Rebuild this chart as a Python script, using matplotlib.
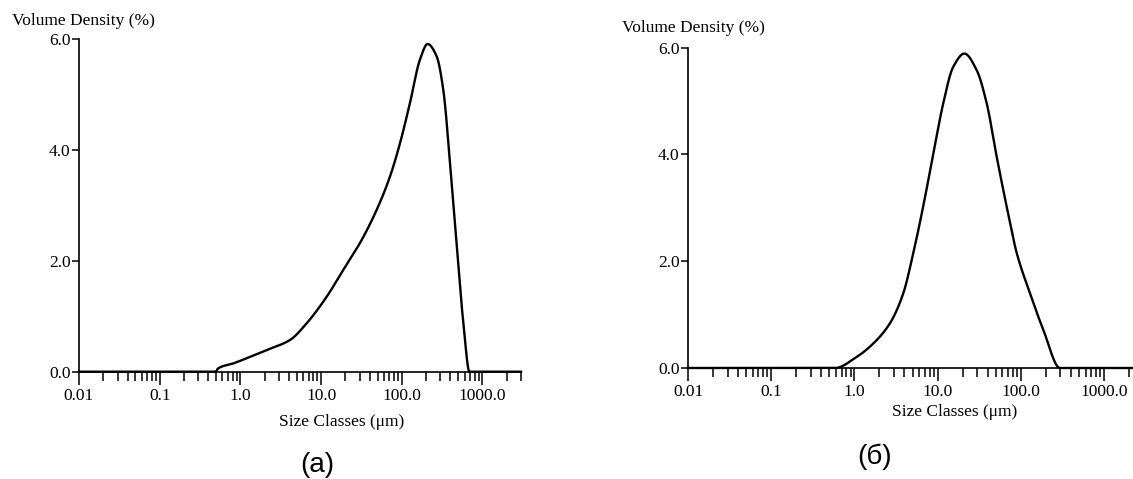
import numpy as np
import matplotlib
matplotlib.use("Agg")
import matplotlib.pyplot as plt
from matplotlib.ticker import FixedLocator, NullFormatter

# ---- DATA ----
size_a = [0.01, 0.50, 0.52, 0.82, 2.1, 4.1, 6.6, 11.7, 18.9, 30.3, 48.9, 71.4,
          95, 126, 168, 209, 270, 327, 396, 480, 580, 690, 3000]
dens_a = [0.0, 0.0, 0.05, 0.15, 0.39, 0.57, 0.87, 1.35, 1.84, 2.32, 2.92, 3.52,
          4.12, 4.84, 5.63, 5.91, 5.69, 5.08, 3.76, 2.26, 0.87, 0.0, 0.0]

size_b = [0.01, 0.585, 1.07, 1.69, 2.68, 3.87, 5.1, 6.7, 8.9, 11.7, 15.4, 21.0,
          29.5, 38.9, 51.3, 67.7, 89.5, 129, 187, 296, 3000]
dens_b = [0.0, 0.0, 0.21, 0.46, 0.84, 1.40, 2.15, 3.02, 4.02, 4.96, 5.64, 5.89,
          5.58, 4.96, 3.96, 3.02, 2.15, 1.40, 0.71, 0.0, 0.0]

major_ticks = [0.01, 0.1, 1.0, 10.0, 100.0, 1000.0]
major_labels = ["0.01", "0.1", "1.0", "10.0", "100.0", "1000.0"]
y_ticks = [0.0, 2.0, 4.0, 6.0]
y_labels = ["0.0", "2.0", "4.0", "6.0"]

W, H = 1133, 479
fs = 12.5

plt.rcParams["font.family"] = "Liberation Serif"


def pchip(xs, ys, n=3000):
    # shape preserving cubic through the read points (log-x)
    x = np.log10(np.asarray(xs, float))
    y = np.asarray(ys, float)
    h = np.diff(x)
    d = np.diff(y) / h
    m = np.zeros_like(y)
    for k in range(1, len(y) - 1):
        if d[k - 1] * d[k] > 0:
            w1 = 2 * h[k] + h[k - 1]
            w2 = h[k] + 2 * h[k - 1]
            m[k] = (w1 + w2) / (w1 / d[k - 1] + w2 / d[k])
    m[0], m[-1] = d[0], d[-1]
    t = np.linspace(x[0], x[-1], n)
    idx = np.clip(np.searchsorted(x, t) - 1, 0, len(h) - 1)
    s = (t - x[idx]) / h[idx]
    h00 = 2 * s**3 - 3 * s**2 + 1
    h10 = s**3 - 2 * s**2 + s
    h01 = -2 * s**3 + 3 * s**2
    h11 = s**3 - s**2
    yy = (h00 * y[idx] + h10 * h[idx] * m[idx] + h01 * y[idx + 1]
          + h11 * h[idx] * m[idx + 1])
    return 10 ** t, yy


def draw_panel(rect, xs, ys):
    ax = fig.add_axes(rect)
    sx, sy = pchip(xs, ys)
    ax.plot(sx, sy, color="black", linewidth=1.7, clip_on=False, zorder=3)
    ax.set_xscale("log")
    ax.set_xlim(0.01, 3000)
    ax.set_ylim(0, 6)
    for s in ["top", "right"]:
        ax.spines[s].set_visible(False)
    for s in ["left", "bottom"]:
        ax.spines[s].set_linewidth(1.2)
        ax.spines[s].set_color("black")
    ax.xaxis.set_major_locator(FixedLocator(major_ticks))
    ax.set_xticklabels(major_labels)
    minors = [m * 10.0 ** e for e in range(-2, 4) for m in range(2, 10)]
    minors = [v for v in minors if v <= 3000]
    ax.xaxis.set_minor_locator(FixedLocator(minors))
    ax.xaxis.set_minor_formatter(NullFormatter())
    ax.set_yticks(y_ticks)
    ax.set_yticklabels(y_labels)
    ax.tick_params(axis="x", which="major", direction="out", length=9,
                   width=1.1, pad=2.5, labelsize=fs)
    ax.tick_params(axis="x", which="minor", direction="out", length=6.5,
                   width=1.1)
    ax.tick_params(axis="y", direction="out", length=5, width=1.1,
                   pad=1, labelsize=fs)
    return ax


fig = plt.figure(figsize=(W / 100, H / 100), dpi=100)

left_a = 79 / W
width_a = 5.477 * 80.7 / W
draw_panel([left_a, 1 - 371.7 / H, width_a, (371.7 - 39) / H], size_a, dens_a)

left_b = 688 / W
width_b = 5.477 * 83.2 / W
draw_panel([left_b, 1 - 368 / H, width_b, (368 - 47.7) / H], size_b, dens_b)

# axis titles
fig.text(12 / W, 1 - 21 / H, "Volume Density (%)", ha="left", va="center",
         fontsize=fs)
fig.text(622 / W, 1 - 28 / H, "Volume Density (%)", ha="left", va="center",
         fontsize=fs)
fig.text(342 / W, 1 - 422 / H, "Size Classes (μm)", ha="center", va="center",
         fontsize=fs)
fig.text(955 / W, 1 - 412 / H, "Size Classes (μm)", ha="center", va="center",
         fontsize=fs)

# panel captions
fig.text(317 / W, 1 - 465 / H, "(а)", ha="center", va="center",
         fontsize=20, family="Liberation Sans")
fig.text(875 / W, 1 - 457 / H, "(б)", ha="center", va="center",
         fontsize=20, family="Liberation Sans")

fig.savefig("out.png", dpi=100)
